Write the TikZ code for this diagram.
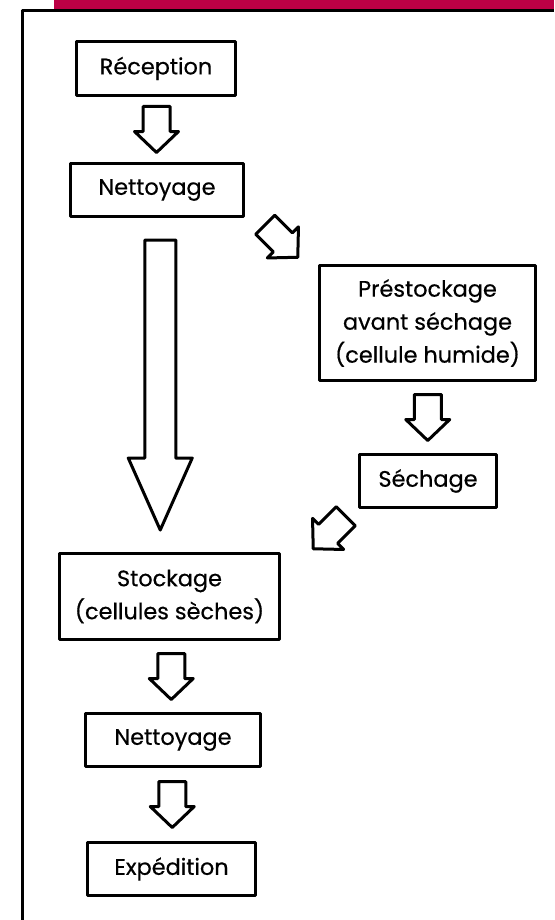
\documentclass[tikz,border=0pt]{standalone}
\usepackage{fontspec}
\setmainfont{Poppins}[FakeBold=0.5]
\usetikzlibrary{calc}
\definecolor{headerred}{HTML}{BC0045}

\begin{document}
\begin{tikzpicture}[
  x=0.5pt,
  y=-0.5pt,
  line join=round,
  line cap=round,
  stepbox/.style={draw=black,line width=1.5pt,fill=white,align=center,inner sep=0pt,
    font=\fontsize{11.2}{16.5}\selectfont},
  blockarrow/.style={draw=black,line width=1.5pt,fill=white},
  frame/.style={draw=black,line width=1.65pt,line cap=butt}
]
  \useasboundingbox (0,0) rectangle (554,920);

  % Header band and page frame.
  \fill[headerred] (54,0) rectangle (554,9);
  \draw[frame] (22.3,920) -- (22.3,10.7) -- (554,10.7);

  % Process steps.
  \node[stepbox,minimum width=79.5pt,minimum height=27pt] (recep) at (156,68.5) {Réception};
  \node[stepbox,minimum width=86.5pt,minimum height=26.5pt] (nett1) at (157,190) {Nettoyage};
  \node[stepbox,minimum width=108pt,minimum height=57.5pt] (prest) at (427.5,323)
    {Préstockage\\avant séchage\\(cellule humide)};
  \node[stepbox,minimum width=68.5pt,minimum height=26.5pt] (sech) at (428,481) {Séchage};
  \node[stepbox,minimum width=110pt,minimum height=43pt] (stock) at (169.5,596.5)
    {Stockage\\(cellules sèches)};
  \node[stepbox,minimum width=87.5pt,minimum height=26.5pt] (nett2) at (173,740) {Nettoyage};
  \node[stepbox,minimum width=84pt,minimum height=26.5pt] (exped) at (171.5,869) {Expédition};

  % Short block arrows between stacked steps.
  \foreach \p/\q in {recep/nett1,prest/sech,stock/nett2,nett2/exped} {
    \draw[blockarrow,shift={($(\p.south)!0.5!(\q.north)$)},rotate=-90]
      (-23,-13.5) -- (2,-13.5) -- (2,-22) -- (23,0) -- (2,22) -- (2,13.5) -- (-23,13.5) -- cycle;
  }

  % Diagonal block arrows to and from the drying branch.
  \draw[blockarrow,shift={($(nett1.south east)!0.5!(prest.north west)$)},rotate=-45]
    (-23,-13.5) -- (2,-13.5) -- (2,-22) -- (23,0) -- (2,22) -- (2,13.5) -- (-23,13.5) -- cycle;
  \draw[blockarrow,shift={($(sech.south west)!0.5!(stock.north east)+(10,2)$)},rotate=-135]
    (-23,-13.5) -- (2,-13.5) -- (2,-22) -- (23,0) -- (2,22) -- (2,13.5) -- (-23,13.5) -- cycle;

  % Long bypass arrow straight to storage.
  \draw[blockarrow,shift={($(nett1.south)!0.5!(stock.north)+(-3,0)$)},rotate=-90]
    (-145,-15.5) -- (73,-15.5) -- (73,-32) -- (145,0) -- (73,32) -- (73,15.5) -- (-145,15.5) -- cycle;
\end{tikzpicture}
\end{document}
